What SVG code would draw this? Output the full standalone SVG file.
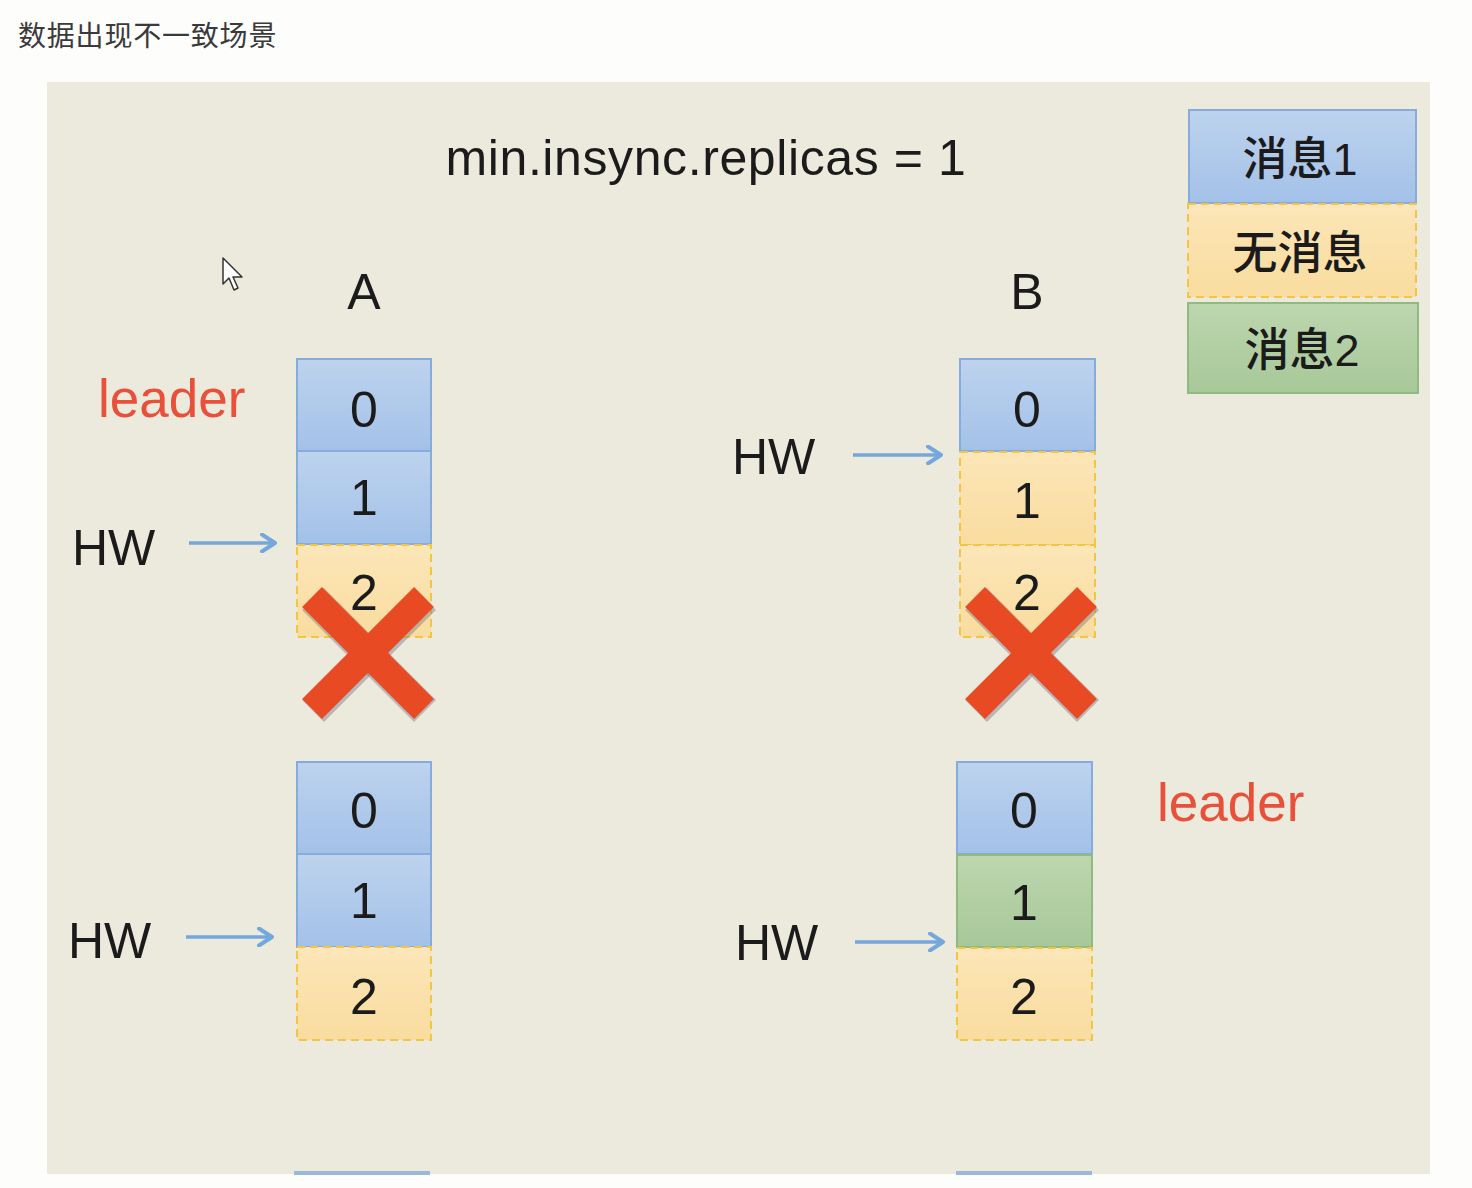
<svg xmlns="http://www.w3.org/2000/svg" width="1472" height="1188" viewBox="0 0 1472 1188">
<defs>
<linearGradient id="gBlue" x1="0" y1="0" x2="0" y2="1"><stop offset="0" stop-color="#BDD3EE"/><stop offset="1" stop-color="#A3C1E8"/></linearGradient>
<linearGradient id="gYel" x1="0" y1="0" x2="0" y2="1"><stop offset="0" stop-color="#FCE6B8"/><stop offset="1" stop-color="#F9DC9E"/></linearGradient>
<linearGradient id="gGrn" x1="0" y1="0" x2="0" y2="1"><stop offset="0" stop-color="#BDD6AE"/><stop offset="1" stop-color="#A7C899"/></linearGradient>
<marker id="arr" viewBox="0 0 20 20" refX="17" refY="10" markerWidth="20" markerHeight="20" markerUnits="userSpaceOnUse" orient="auto">
<path d="M4,1.5 L17,10 L4,18.5" fill="none" stroke="#74A8DC" stroke-width="4" stroke-linecap="round" stroke-linejoin="round"/>
</marker>
<style>
.blue{fill:url(#gBlue);stroke:#86ABDD;stroke-width:2}
.yel{fill:url(#gYel);stroke:#F4C543;stroke-width:2;stroke-dasharray:8 5}
.grn{fill:url(#gGrn);stroke:#90BB7E;stroke-width:2}
.num{font-family:"Liberation Sans","Noto Sans",sans-serif;font-size:50px;fill:#1B1B1B;text-anchor:middle}
.lbl{font-family:"Liberation Sans","Noto Sans",sans-serif;font-size:50px;fill:#1B1B1B}
.red{font-family:"Liberation Sans","Noto Sans",sans-serif;font-size:53px;fill:#E8503A}
.leg{font-family:"Liberation Sans","Noto Sans CJK SC",sans-serif;font-size:45px;font-weight:500;fill:#1B1B1B;text-anchor:middle}
.conn{stroke:#74A8DC;stroke-width:3.5;fill:none;marker-end:url(#arr)}
.xs{stroke:#7E7A86;stroke-width:31;opacity:0.45}
.x{stroke:#E84B24;stroke-width:28}
</style>
</defs>
<rect x="0" y="0" width="1472" height="1188" fill="#FDFDFC"/>
<text x="18" y="46" font-family="'Noto Sans CJK SC',sans-serif" font-size="28" fill="#3A3A3A" letter-spacing="0.8">数据出现不一致场景</text>
<rect x="47" y="82" width="1383" height="1092" fill="#ECE9DD"/>
<rect x="294" y="1171" width="136" height="4" fill="#9AB7DC"/>
<rect x="956" y="1171" width="136" height="4" fill="#9AB7DC"/>

<text id="title" x="706" y="175" class="lbl" text-anchor="middle" font-size="52" letter-spacing="0.6">min.insync.replicas = 1</text>

<g id="legend">
<rect x="1189" y="110" width="227" height="93" class="blue"/>
<text x="1300" y="175" class="leg">消息1</text>
<rect x="1188" y="204" width="228" height="93" class="yel"/>
<text x="1300" y="269" class="leg">无消息</text>
<rect x="1188" y="303" width="230" height="90" class="grn"/>
<text x="1302" y="366" class="leg">消息2</text>
</g>

<g id="cursor">
<path d="M223,258 L223,284 L229,278 L234,290 L238,288 L233,277 L242,277 Z" fill="#FFFFFF" stroke="#333" stroke-width="1.5" stroke-linejoin="round"/>
</g>

<g id="labelA"><text x="364" y="309" class="num">A</text></g>
<g id="labelB"><text x="1027" y="309" class="num">B</text></g>

<g id="leaderA"><text x="98" y="417" class="red">leader</text></g>
<g id="leaderB"><text x="1157" y="821" class="red">leader</text></g>

<g id="A-top">
<rect x="297" y="359" width="134" height="92" class="blue"/>
<text x="364" y="427" class="num">0</text>
<rect x="297" y="451" width="134" height="93" class="blue"/>
<text x="364" y="515" class="num">1</text>
<rect x="297" y="545" width="134" height="92" class="yel"/>
<text x="364" y="610" class="num">2</text>
</g>
<g id="A-top-x">
<line x1="313" y1="599" x2="425" y2="711" class="xs"/>
<line x1="425" y1="599" x2="313" y2="711" class="xs"/>
<line x1="312" y1="597" x2="424" y2="709" class="x"/>
<line x1="424" y1="597" x2="312" y2="709" class="x"/>
</g>

<g id="B-top">
<rect x="960" y="359" width="135" height="92" class="blue"/>
<text x="1027" y="427" class="num">0</text>
<rect x="960" y="452" width="135" height="93" class="yel"/>
<text x="1027" y="518" class="num">1</text>
<rect x="960" y="545" width="135" height="92" class="yel"/>
<text x="1027" y="610" class="num">2</text>
</g>
<g id="B-top-x">
<line x1="976" y1="599" x2="1088" y2="711" class="xs"/>
<line x1="1088" y1="599" x2="976" y2="711" class="xs"/>
<line x1="975" y1="597" x2="1087" y2="709" class="x"/>
<line x1="1087" y1="597" x2="975" y2="709" class="x"/>
</g>

<g id="A-bottom">
<rect x="297" y="762" width="134" height="92" class="blue"/>
<text x="364" y="828" class="num">0</text>
<rect x="297" y="854" width="134" height="93" class="blue"/>
<text x="364" y="918" class="num">1</text>
<rect x="297" y="947" width="134" height="93" class="yel"/>
<text x="364" y="1014" class="num">2</text>
</g>

<g id="B-bottom">
<rect x="957" y="762" width="135" height="92" class="blue"/>
<text x="1024" y="828" class="num">0</text>
<rect x="957" y="855" width="135" height="92" class="grn"/>
<text x="1024" y="920" class="num">1</text>
<rect x="957" y="948" width="135" height="92" class="yel"/>
<text x="1024" y="1014" class="num">2</text>
</g>

<g id="hw-labels">
<text x="72" y="565" class="lbl">HW</text>
<text x="732" y="474" class="lbl">HW</text>
<text x="68" y="958" class="lbl">HW</text>
<text x="735" y="960" class="lbl">HW</text>
</g>

<g id="connectors">
<line x1="189" y1="543" x2="275" y2="543" class="conn"/>
<line x1="853" y1="455" x2="941" y2="455" class="conn"/>
<line x1="186" y1="937" x2="272" y2="937" class="conn"/>
<line x1="855" y1="942" x2="943" y2="942" class="conn"/>
</g>
</svg>
